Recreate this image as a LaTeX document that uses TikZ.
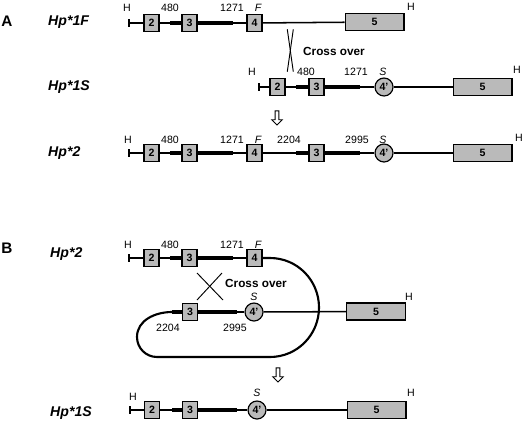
\documentclass[tikz,border=0pt]{standalone}
\usepackage{fontspec}
\setmainfont{Liberation Sans}
\usetikzlibrary{arrows.meta,shapes.arrows,backgrounds}

\begin{document}
\begin{tikzpicture}[
  x=0.85pt, y=0.85pt,
  every node/.style={inner sep=0pt},
  gene/.style={font=\fontsize{12}{14}\selectfont\bfseries\itshape,anchor=west},
  panel/.style={font=\fontsize{13}{15}\selectfont\bfseries},
  lbl/.style={font=\fontsize{9}{10}\selectfont},
  site/.style={font=\fontsize{9}{10}\selectfont\itshape},
  note/.style={font=\fontsize{10}{12}\selectfont\bfseries,anchor=west},
  exon/.style={draw,line width=1pt,fill=black!27,minimum width=12.75pt,minimum height=14.5pt,font=\fontsize{9}{10}\selectfont\bfseries},
  exoncirc/.style={exon,circle,minimum size=15.3pt},
  bigexon/.style={exon,minimum width=50pt},
  hend/.style={line width=1.7pt,{Bar[width=6pt,line width=1.7pt]}-},
  intron/.style={line width=1.3pt},
  coding/.style={line width=3.6pt},
  loop/.style={line width=1.8pt},
  xover/.style={line width=.8pt},
  downarrow/.style={single arrow,draw,fill=white,line width=.7pt,shape border rotate=270,
    minimum height=12pt,minimum width=9pt,single arrow head extend=2.5pt,inner sep=1pt}]

  \useasboundingbox (0,0) rectangle (530,-426);

  % Panel A
  \node[panel] (A) at (7,-21) {A};
  \node[gene] (nF) at (48,-22) {Hp*1F};
  \node[gene] (nS) at (48,-87) {Hp*1S};
  \node[gene] (n2) at (48,-153) {Hp*2};

  % Hp*1F
  \coordinate (Fh) at (128,-23);
  \node[exon] (F2) at (151.5,-23) {2};
  \coordinate (F480) at (170,-23);
  \node[exon] (F3) at (189.5,-23) {3};
  \coordinate (F1271) at (233,-23);
  \node[exon] (F4) at (254.5,-23) {4};
  \node[bigexon] (F5) at (374.5,-22) {5};
  \node[lbl] (FlH) at (127,-8) {H};
  \node[lbl] (Fl480) at (170,-8) {480};
  \node[lbl] (Fl1271) at (232,-8) {1271};
  \node[site] (FlF) at (258,-8) {F};
  \node[lbl] (FlH2) at (411,-7) {H};

  % Hp*1S
  \coordinate (Sh) at (258,-87);
  \node[exon] (S2) at (277.5,-87) {2};
  \coordinate (S480) at (296,-87);
  \node[exon] (S3) at (316.5,-87) {3};
  \coordinate (S1271) at (360,-87);
  \node[exoncirc] (S4) at (384,-87) {4'};
  \node[bigexon] (S5) at (482.5,-87) {5};
  \node[lbl] (SlH) at (252,-72) {H};
  \node[lbl] (Sl480) at (306,-72) {480};
  \node[lbl] (Sl1271) at (356,-72) {1271};
  \node[site] (SlS) at (383,-72) {S};
  \node[lbl] (SlH2) at (517,-70) {H};

  % crossing between Hp*1F and Hp*1S
  \coordinate (xa1) at (287.3,-29.3);
  \coordinate (xa2) at (293.3,-71.7);
  \coordinate (xa3) at (293.3,-29.3);
  \coordinate (xa4) at (287.3,-71.7);
  \draw[xover] (xa1) -- (xa2);
  \draw[xover] (xa3) -- (xa4);
  \node[note] (coA) at (303,-51) {Cross over};
  \node[downarrow] (dnA) at (277,-117) {};

  % Hp*2
  \coordinate (Th) at (128,-153);
  \node[exon] (T2) at (151.5,-153) {2};
  \coordinate (T480) at (170,-153);
  \node[exon] (T3) at (189.5,-153) {3};
  \coordinate (T1271) at (233,-153);
  \node[exon] (T4) at (254.5,-153) {4};
  \coordinate (T2204) at (296,-153);
  \node[exon] (T3b) at (316.5,-153) {3};
  \coordinate (T2995) at (360,-153);
  \node[exoncirc] (T4b) at (384,-153) {4'};
  \node[bigexon] (T5) at (482.5,-153) {5};
  \node[lbl] (TlH) at (128,-140) {H};
  \node[lbl] (Tl480) at (170,-140) {480};
  \node[lbl] (Tl1271) at (232,-140) {1271};
  \node[site] (TlF) at (258,-140) {F};
  \node[lbl] (Tl2204) at (289,-140) {2204};
  \node[lbl] (Tl2995) at (357,-140) {2995};
  \node[site] (TlS) at (383,-140) {S};
  \node[lbl] (TlH2) at (519,-138) {H};

  % Panel B
  \node[panel] (B) at (7,-248) {B};
  \node[gene] (nB) at (50,-254) {Hp*2};
  \node[gene] (nE) at (50,-413) {Hp*1S};

  % Hp*2 folded
  \coordinate (Bh) at (128,-258);
  \node[exon] (B2) at (151.5,-258) {2};
  \coordinate (B480) at (170,-258);
  \node[exon] (B3) at (189.5,-258) {3};
  \coordinate (B1271) at (233,-258);
  \node[exon] (B4) at (254.5,-258) {4};
  \node[lbl] (BlH) at (128,-245) {H};
  \node[lbl] (Bl480) at (170,-245) {480};
  \node[lbl] (Bl1271) at (232,-245) {1271};
  \node[site] (BlF) at (258,-245) {F};

  \coordinate (L2204) at (172,-312);
  \node[exon] (L3) at (190,-312) {3};
  \coordinate (L2995) at (237,-312);
  \node[exoncirc] (L4) at (254,-312) {4'};
  \node[bigexon] (L5) at (376,-311.5) {5};
  \node[lbl] (Ll2204) at (168,-328) {2204};
  \node[lbl] (Ll2995) at (235,-328) {2995};
  \node[site] (LlS) at (254,-297) {S};
  \node[lbl] (LlH) at (409,-297) {H};

  % crossing inside the loop
  \coordinate (xb1) at (197,-273);
  \coordinate (xb2) at (223,-300);
  \coordinate (xb3) at (222,-273);
  \coordinate (xb4) at (197,-300);
  \draw[xover] (xb1) -- (xb2);
  \draw[xover] (xb3) -- (xb4);
  \node[note] (coB) at (225,-283) {Cross over};
  \node[downarrow] (dnB) at (278,-374) {};

  % Hp*1S result
  \coordinate (Eh) at (129,-410);
  \node[exon] (E2) at (152,-410) {2};
  \coordinate (E480) at (172,-410);
  \node[exon] (E3) at (190,-410) {3};
  \coordinate (E1271) at (237,-410);
  \node[exoncirc] (E4) at (257,-410) {4'};
  \node[bigexon] (E5) at (376.5,-410) {5};
  \node[lbl] (ElH) at (133,-397) {H};
  \node[site] (ElS) at (257,-393) {S};
  \node[lbl] (ElH2) at (411,-393) {H};

  % Draw the gene lines behind the exons
  \begin{scope}[on background layer]
    \draw[hend] (Fh) -- (F2);
    \draw[intron] (F2) -- (F480);
    \draw[coding] (F480) -- (F3);
    \draw[coding] (F3) -- (F1271);
    \draw[intron] (F1271) -- (F4);
    \draw[intron] (F4) -- (F5);

    \draw[hend] (Sh) -- (S2);
    \draw[intron] (S2) -- (S480);
    \draw[coding] (S480) -- (S3);
    \draw[coding] (S3) -- (S1271);
    \draw[intron] (S1271) -- (S4);
    \draw[intron] (S4) -- (S5);

    \draw[hend] (Th) -- (T2);
    \draw[intron] (T2) -- (T480);
    \draw[coding] (T480) -- (T3);
    \draw[coding] (T3) -- (T1271);
    \draw[intron] (T1271) -- (T4);
    \draw[intron] (T4) -- (T2204);
    \draw[coding] (T2204) -- (T3b);
    \draw[coding] (T3b) -- (T2995);
    \draw[intron] (T2995) -- (T4b);
    \draw[intron] (T4b) -- (T5);

    \draw[hend] (Bh) -- (B2);
    \draw[intron] (B2) -- (B480);
    \draw[coding] (B480) -- (B3);
    \draw[coding] (B3) -- (B1271);
    \draw[intron] (B1271) -- (B4);
    \draw[loop] (B4) -- (270,-258) to[out=0,in=90] (319,-307.5) to[out=-90,in=0] (270,-357)
      -- (157,-357) to[out=180,in=-90] (137,-337) to[out=90,in=180] (L2204);
    \draw[coding] (L2204) -- (L3);
    \draw[coding] (L3) -- (L2995);
    \draw[intron] (L2995) -- (L4);
    \draw[intron] (L4) -- (L5);

    \draw[hend] (Eh) -- (E2);
    \draw[intron] (E2) -- (E480);
    \draw[coding] (E480) -- (E3);
    \draw[coding] (E3) -- (E1271);
    \draw[intron] (E1271) -- (E4);
    \draw[intron] (E4) -- (E5);
  \end{scope}
\end{tikzpicture}
\end{document}
